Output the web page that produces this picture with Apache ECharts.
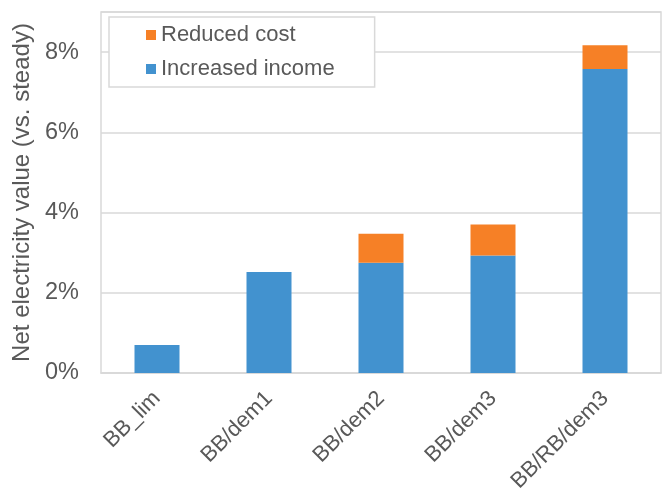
<!DOCTYPE html>
<html>
<head>
<meta charset="utf-8">
<script src="https://cdn.jsdelivr.net/npm/echarts@6/dist/echarts.min.js"></script>
<style>html,body{margin:0;padding:0;background:#fff;}#c{width:662px;height:489px;}</style>
</head>
<body>
<div id="c"></div>
<script>
var categories = ['BB_lim', 'BB/dem1', 'BB/dem2', 'BB/dem3', 'BB/RB/dem3'];
var increasedIncome = [0.70, 2.52, 2.75, 2.93, 7.58];
var reducedCost = [0, 0, 0.72, 0.77, 0.59];
var yTicks = [0, 2, 4, 6, 8];
var seriesNames = ['Increased income', 'Reduced cost'];

var FONT = 'Liberation Sans, Arial, sans-serif';
var TXT = '#595959';
var GRID = '#d9d9d9';

var chart = echarts.init(document.getElementById('c'), null, {renderer: 'canvas'});
chart.setOption({
  animation: false,
  backgroundColor: '#fff',
  grid: {left: 101, right: 1, top: 12, bottom: 116, show: true, borderColor: GRID, borderWidth: 1.5,
    containLabel: false, outerBoundsMode: 'none'},
  legend: {
    orient: 'vertical', left: 109, top: 17,
    data: [seriesNames[1], seriesNames[0]],
    backgroundColor: '#fff', borderColor: GRID, borderWidth: 1.5,
    padding: [7, 40, 7, 37], itemWidth: 10, itemHeight: 10, itemGap: 12,
    icon: 'rect',
    textStyle: {fontFamily: FONT, fontSize: 22, color: TXT}
  },
  xAxis: {
    type: 'category', data: categories,
    axisLine: {show: true, lineStyle: {color: GRID, width: 1.5}},
    axisTick: {show: false},
    axisLabel: {rotate: 45, margin: 22, interval: 0, fontFamily: FONT, fontSize: 22, color: TXT}
  },
  yAxis: {
    type: 'value', min: yTicks[0], max: 9, interval: 2,
    name: 'Net electricity value (vs. steady)', nameLocation: 'middle', nameGap: 64,
    nameTextStyle: {fontFamily: FONT, fontSize: 24, color: TXT},
    axisLine: {show: false}, axisTick: {show: false},
    axisLabel: {margin: 22, showMaxLabel: false, fontFamily: FONT, fontSize: 23.5, color: TXT,
      formatter: function (v) { return yTicks.indexOf(v) >= 0 ? v + '%' : ''; }},
    splitLine: {lineStyle: {color: GRID, width: 1.5}}
  },
  series: [
    {name: seriesNames[0], type: 'bar', stack: 's', data: increasedIncome, barWidth: 45,
      itemStyle: {color: '#4292cf'}},
    {name: seriesNames[1], type: 'bar', stack: 's', data: reducedCost, barWidth: 45,
      itemStyle: {color: '#f68026'}}
  ]
});
</script>
</body>
</html>
